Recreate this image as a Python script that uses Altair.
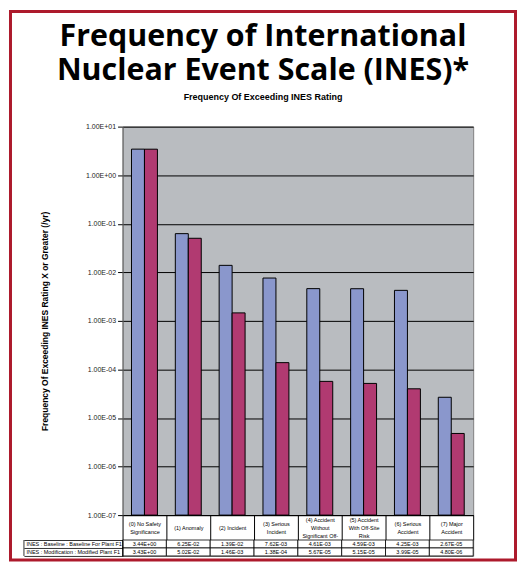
import altair as alt
import pandas as pd

categories = [
    "(0) No Safety|Significance",
    "(1) Anomaly",
    "(2) Incident",
    "(3) Serious|Incident",
    "(4) Accident|Without|Significant Off-",
    "(5) Accident|With Off-Site|Risk",
    "(6) Serious|Accident",
    "(7) Major|Accident",
]
series = [
    "INES : Baseline : Baseline For Plant F1",
    "INES : Modification : Modified Plant F1",
]
baseline = [3.44, 6.25e-2, 1.39e-2, 7.62e-3, 4.61e-3, 4.59e-3, 4.25e-3, 2.67e-5]
modified = [3.43, 5.02e-2, 1.46e-3, 1.38e-4, 5.67e-5, 5.15e-5, 3.99e-5, 4.80e-6]
y_ticks = [1e-7, 1e-6, 1e-5, 1e-4, 1e-3, 1e-2, 1e-1, 1e0, 1e1]

rows = []
for s, vals in zip(series, [baseline, modified]):
    for c, v in zip(categories, vals):
        rows.append({"category": c, "series": s, "value": v, "label": f"{v:.2E}"})
df = pd.DataFrame(rows)

BLUE = "#8a97cc"
RED = "#b13a71"
W, H = 352, 390

xscale = alt.Scale(domain=categories, paddingInner=0, paddingOuter=0)

exp = "round(log(datum.value)/LN10)"
ylabel = ("'1.00E' + (datum.value >= 1 ? '+' : '-') + (abs(" + exp + ") < 10 ? '0' : '') + abs(" + exp + ")")

nlines = "length(split(datum.label, '|'))"
label_pad = {
    "condition": [
        {"test": nlines + " == 1", "value": -12.5},
        {"test": nlines + " == 2", "value": -16.75},
    ],
    "value": -21,
}

bars = alt.Chart(df).mark_bar(stroke="black", strokeWidth=1).encode(
    x=alt.X(
        "category:N", scale=xscale, sort=categories,
        axis=alt.Axis(
            title=None, labelExpr="split(datum.label, '|')", labelAngle=0,
            tickBand="extent", tickSize=25, tickColor="black", tickWidth=1,
            domainColor="black", domainWidth=1,
            labelFontSize=5.5, labelLineHeight=8.5, labelBaseline="middle",
            labelPadding=label_pad, labelFont="Liberation Sans", labelColor="black",
            grid=False,
        ),
    ),
    xOffset=alt.XOffset("series:N", sort=series,
                        scale=alt.Scale(domain=series, paddingInner=0, paddingOuter=0.69)),
    y=alt.Y(
        "value:Q",
        scale=alt.Scale(type="log", domain=[1e-7, 10]),
        axis=alt.Axis(
            title="Frequency Of Exceeding INES Rating X or Greater (/yr)",
            values=y_ticks, labelExpr=ylabel,
            grid=True, gridColor="black", gridWidth=1,
            tickSize=5, tickColor="black", domainColor="#666666",
            labelFontSize=7, labelFont="Liberation Sans", labelColor="#222222",
            titleFont="Liberation Sans", titleFontSize=8.5, titleFontWeight="bold",
            titleColor="black", titlePadding=36,
        ),
    ),
    y2=alt.datum(1e-7),
    color=alt.Color("series:N", scale=alt.Scale(domain=series, range=[BLUE, RED]), legend=None),
)

frame = alt.Chart(pd.DataFrame({"k": [0]})).mark_rect(
    filled=False, stroke="#ad1a2c", strokeWidth=3
).encode(
    x=alt.value(-112.5), x2=alt.value(394.5), y=alt.value(-115.5), y2=alt.value(435)
)

main = alt.layer(bars, frame).properties(width=W, height=H)

tbl_base = alt.Chart(df).encode(
    x=alt.X("category:N", sort=categories,
            scale=alt.Scale(domain=categories, paddingInner=0, paddingOuter=0), axis=None),
    y=alt.Y("series:N", sort=series,
            scale=alt.Scale(domain=series, paddingInner=0, paddingOuter=0),
            axis=alt.Axis(title=None, tickBand="extent", tickSize=99, tickColor="black",
                          tickWidth=0.8, domainColor="black", labelAlign="left",
                          labelPadding=-2, labelFontSize=5.5, labelFont="Liberation Sans",
                          labelColor="black")),
)
cells = tbl_base.mark_rect(fill="white", stroke="black", strokeWidth=0.8)
texts = tbl_base.mark_text(fontSize=5.5, font="Liberation Sans", color="black").encode(text="label:N")
left_edge = alt.Chart(pd.DataFrame({"k": [0]})).mark_rule(color="black", strokeWidth=0.8).encode(
    x=alt.value(-99), y=alt.value(0), y2=alt.value(16)
)
table = alt.layer(cells, texts, left_edge).properties(width=W, height=16)

chart = alt.vconcat(main, table, spacing=25, bounds="flush").properties(
    title=alt.TitleParams(
        text=["Frequency of International", "Nuclear Event Scale (INES)*"],
        subtitle="Frequency Of Exceeding INES Rating",
        font="Open Sans", fontSize=30.5, fontWeight="bold", lineHeight=34, color="black",
        subtitleFont="Liberation Sans", subtitleFontSize=9, subtitleFontWeight="bold",
        subtitleColor="black", subtitlePadding=7,
        anchor="middle", frame="bounds", offset=-93,
    ),
    padding=0,
    background="white",
).configure_view(fill="#b9bcc0", stroke="#808080")

chart.save("out.html", embed_options={"renderer": "svg", "actions": False})
